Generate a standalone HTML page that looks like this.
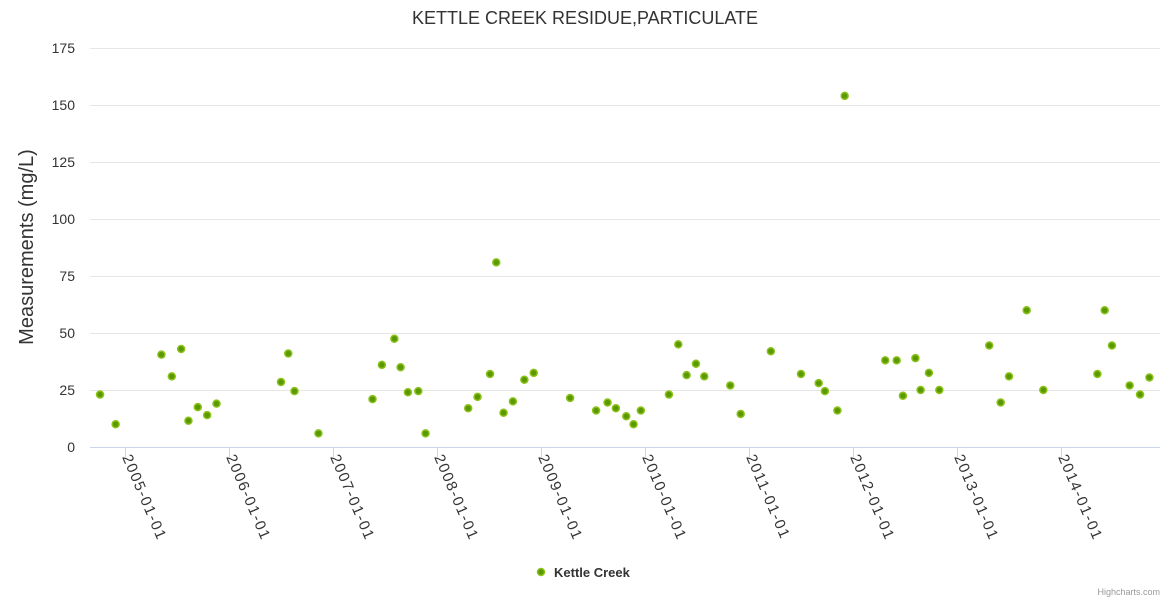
<!DOCTYPE html>
<html><head><meta charset="utf-8"><style>
body{margin:0;background:#fff;}
svg{display:block;font-family:"Liberation Sans",sans-serif;}
</style></head><body>
<svg id="chart" width="1170" height="600">
<text x="585" y="24" text-anchor="middle" font-size="18" fill="#333">KETTLE CREEK RESIDUE,PARTICULATE</text>
<g id="grid"></g>
<g id="yticks"></g>
<g id="xticks"></g>
<text transform="translate(33,247) rotate(-90)" text-anchor="middle" font-size="20" fill="#333">Measurements (mg/L)</text>
<g id="points"></g>
<g>
<circle cx="541" cy="572" r="3.5" fill="#5a9a00" stroke="#8cc21b" stroke-width="1.5"/>
<text x="554" y="577" font-size="13" font-weight="bold" fill="#333">Kettle Creek</text>
</g>
<text x="1160" y="595" text-anchor="end" font-size="9" fill="#999">Highcharts.com</text>
</svg>
<script>
const yTicks=[0,25,50,75,100,125,150,175];
const xTickYears=[2005,2006,2007,2008,2009,2010,2011,2012,2013,2014];
const dates=[2004.76,2004.91,2005.35,2005.45,2005.54,2005.61,2005.70,2005.79,2005.88,2006.50,2006.57,2006.63,2006.86,2007.38,2007.47,2007.59,2007.65,2007.72,2007.82,2007.89,2008.30,2008.39,2008.51,2008.57,2008.64,2008.73,2008.84,2008.93,2009.28,2009.53,2009.64,2009.72,2009.82,2009.89,2009.96,2010.23,2010.32,2010.40,2010.49,2010.57,2010.82,2010.92,2011.21,2011.50,2011.67,2011.73,2011.85,2011.92,2012.31,2012.42,2012.48,2012.60,2012.65,2012.73,2012.83,2013.31,2013.42,2013.50,2013.67,2013.83,2014.35,2014.42,2014.49,2014.66,2014.76,2014.85];
const values=[23,10,40.5,31,43,11.5,17.5,14,19,28.5,41,24.5,6,21,36,47.5,35,24,24.5,6,17,22,32,81,15,20,29.5,32.5,21.5,16,19.5,17,13.5,10,16,23,45,31.5,36.5,31,27,14.5,42,32,28,24.5,16,154,38,38,22.5,39,25,32.5,25,44.5,19.5,31,60,25,32,60,44.5,27,23,30.5];
const NS='http://www.w3.org/2000/svg';
const L=90,R=1160;
function xs(yr){return 125+(yr-2005)*104;}
function ys(v){return 447-v*(399/175);}
function mk(t,a){const e=document.createElementNS(NS,t);for(const k in a)e.setAttribute(k,a[k]);return e;}
const grid=document.getElementById('grid'),yt=document.getElementById('yticks'),xt=document.getElementById('xticks'),pts=document.getElementById('points');
yTicks.forEach(v=>{
 const ln=mk('line',{x1:L,x2:R,y1:ys(v)+0.5,y2:ys(v)+0.5,stroke:v===0?'#ccd6eb':'#e6e6e6','stroke-width':1});
 
 
 grid.appendChild(ln);
 const t=mk('text',{x:75,y:ys(v)+5,'text-anchor':'end','font-size':14,fill:'#333'});
 t.textContent=v;
 
 
 yt.appendChild(t);
});
xTickYears.forEach(y=>{
 const x=xs(y);
 const tk=mk('line',{x1:x+0.5,x2:x+0.5,y1:447,y2:457,stroke:'#ccd6eb'});
 
 
 xt.appendChild(tk);
 const t=mk('text',{transform:`translate(${x-3},457) rotate(67)`,'font-size':15,'letter-spacing':1.5,fill:'#333'});
 t.textContent=y+'-01-01';
 
 
 xt.appendChild(t);
});
dates.forEach((d,i)=>{
 const c=mk('circle',{cx:xs(d),cy:ys(values[i]),r:3.5,fill:'#5a9a00',stroke:'#8cc21b','stroke-width':1.5});
 
 
 pts.appendChild(c);
});
</script>
</body></html>
